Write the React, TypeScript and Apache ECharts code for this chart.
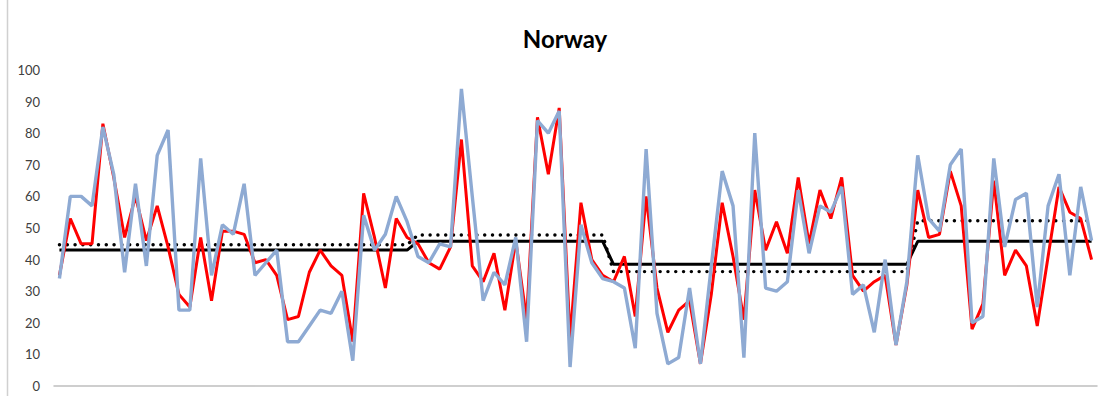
import React, { useEffect, useRef } from "react";
import * as echarts from "echarts";

const titleText = "Norway";
const yTicks = [0, 10, 20, 30, 40, 50, 60, 70, 80, 90, 100];

const redSeries = [
  35, 53, 45, 45, 83, 66, 47, 60, 46, 57, 44, 29, 25, 47, 27, 49, 49, 48, 39, 40,
  35, 21, 22, 36, 43, 38, 35, 14, 61, 47, 31, 53, 47, 45, 39, 37, 44, 78, 38, 33,
  42, 24, 46, 21, 85, 67, 88, 15, 58, 40, 35, 33, 41, 22, 60, 31, 17, 24, 27, 7,
  29, 58, 41, 21, 62, 43, 52, 42, 66, 45, 62, 53, 66, 35, 30, 33, 35, 13, 32, 62,
  47, 48, 68, 57, 18, 26, 65, 35, 43, 38, 19, 41, 63, 55, 53, 40,
];

const blueSeries = [
  34, 60, 60, 57, 82, 67, 36, 64, 38, 73, 81, 24, 24, 72, 35, 51, 48, 64, 35, 39,
  43, 14, 14, 19, 24, 23, 30, 8, 54, 43, 48, 60, 52, 41, 39, 45, 44, 94, 60, 27,
  36, 32, 47, 14, 84, 80, 87, 6, 51, 39, 34, 33, 31, 12, 75, 23, 7, 9, 31, 7,
  38, 68, 57, 9, 80, 31, 30, 33, 62, 42, 57, 55, 63, 29, 32, 17, 40, 13, 33, 73,
  53, 49, 70, 75, 20, 22, 72, 44, 59, 61, 25, 57, 67, 35, 63, 46,
];

// step levels (per period) and period lengths in points
const periodLengths = [33, 18, 28, 17];
const solidLevels = [43, 45.8, 38.5, 45.8];
const dottedLevels = [44.7, 47.8, 36.2, 52.3];

function expandLevels(levels: number[], lengths: number[]): number[] {
  const out: number[] = [];
  levels.forEach((v, k) => {
    for (let j = 0; j < lengths[k]; j++) out.push(v);
  });
  return out;
}

const categories = redSeries.map((_, i) => String(i + 1));

export default function App() {
  const ref = useRef<HTMLDivElement>(null);
  useEffect(() => {
    if (!ref.current) return;
    const chart = echarts.init(ref.current, null, { renderer: "svg" });
    const font = "Lato, 'Liberation Sans', sans-serif";
    chart.setOption({
      animation: false,
      backgroundColor: "#ffffff",
      title: {
        text: titleText,
        left: 560,
        top: 21,
        textAlign: "center",
        textStyle: { fontFamily: font, fontSize: 24, fontWeight: "bold", color: "#000000" },
      },
      graphic: [
        {
          type: "line",
          shape: { x1: 7.5, y1: 0, x2: 7.5, y2: 396 },
          style: { stroke: "#d0d0d0", lineWidth: 1.5 },
          silent: true,
        },
      ],
      grid: { left: 54, right: 6, top: 70, bottom: 10, containLabel: false },
      xAxis: {
        type: "category",
        data: categories,
        boundaryGap: true,
        axisLine: { show: true, lineStyle: { color: "#bfbfbf", width: 1.5 } },
        axisTick: { show: false },
        axisLabel: { show: false },
        splitLine: { show: false },
      },
      yAxis: {
        type: "value",
        min: yTicks[0],
        max: yTicks[yTicks.length - 1],
        interval: 10,
        axisLine: { show: false },
        axisTick: { show: false },
        splitLine: { show: false },
        axisLabel: { fontFamily: font, fontSize: 13, color: "#404040", margin: 14 },
      },
      series: [
        {
          type: "line",
          data: expandLevels(solidLevels, periodLengths),
          showSymbol: false,
          lineStyle: { color: "#000000", width: 3 },
          z: 2,
        },
        {
          type: "line",
          data: expandLevels(dottedLevels, periodLengths),
          showSymbol: false,
          lineStyle: { color: "#000000", width: 3.4, type: [0.1, 7.7], cap: "round" },
          z: 2,
        },
        {
          type: "line",
          data: redSeries,
          showSymbol: false,
          lineStyle: { color: "#ff0000", width: 3 },
          z: 3,
        },
        {
          type: "line",
          data: blueSeries,
          showSymbol: false,
          lineStyle: { color: "#8eaad3", width: 3.4 },
          z: 4,
        },
      ],
    });
    return () => chart.dispose();
  }, []);
  return (
    <div
      ref={ref}
      style={{ position: "fixed", left: 0, top: 0, width: 1103, height: 396, background: "#fff" }}
    />
  );
}
